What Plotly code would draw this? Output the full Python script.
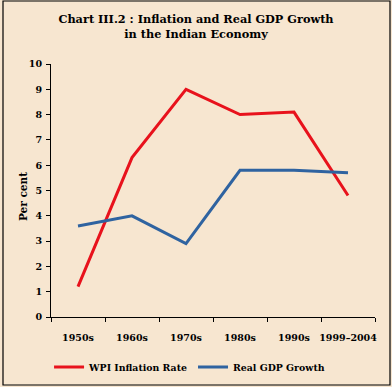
import plotly.graph_objects as go

categories = ["1950s", "1960s", "1970s", "1980s", "1990s", "1999-2004"]
wpi_inflation = [1.2, 6.3, 9.0, 8.0, 8.1, 4.8]
real_gdp_growth = [3.6, 4.0, 2.9, 5.8, 5.8, 5.7]

BG = "#F7E6D0"
FONT = "DejaVu Serif"

fig = go.Figure()
fig.add_trace(go.Scatter(x=categories, y=wpi_inflation, mode="lines",
                         name="<b>WPI Inflation Rate</b>",
                         line=dict(color="#E8121C", width=3)))
fig.add_trace(go.Scatter(x=categories, y=real_gdp_growth, mode="lines",
                         name="<b>Real GDP Growth</b>",
                         line=dict(color="#2F63A0", width=3)))

fig.update_layout(
    width=392, height=387,
    margin=dict(l=51, r=17, t=64, b=70, autoexpand=False),
    paper_bgcolor=BG, plot_bgcolor=BG,
    font=dict(family=FONT, size=9, color="black"),
    title=dict(text="<b>Chart III.2 : Inflation and Real GDP Growth<br>in the Indian Economy</b>",
               x=0.5, xanchor="center", y=0.94, yanchor="top",
               font=dict(family=FONT, size=11.3, color="black")),
    showlegend=True,
    legend=dict(orientation="h", x=-0.006, xanchor="left", y=-0.14, yanchor="top",
                bgcolor="rgba(0,0,0,0)", font=dict(family=FONT, size=9.4),
                itemwidth=30, tracegroupgap=0),
    xaxis=dict(type="category", range=[-0.5, 5.5], showline=True, linecolor="black",
               linewidth=1, ticks="outside", tickson="boundaries", ticklen=4,
               tickcolor="black", showgrid=False, zeroline=False, tickangle=0,
               ticklabelstandoff=12,
               tickfont=dict(family=FONT, size=9.5),
               tickvals=categories,
               ticktext=["<b>%s</b>" % c.replace("-", "–") for c in categories]),
    yaxis=dict(range=[0, 10], showline=True, linecolor="black", linewidth=1,
               ticks="outside", ticklen=4, tickcolor="black", showgrid=False,
               zeroline=False, tickfont=dict(family=FONT, size=9.5),
               ticklabelstandoff=2,
               tickvals=list(range(0, 11)),
               ticktext=["<b>%d</b>" % v for v in range(0, 11)]),
    annotations=[dict(text="<b>Per cent</b>", xref="paper", yref="paper",
                      x=(23 - 51) / 324, y=(317 - 197) / 253, xanchor="center",
                      yanchor="middle", textangle=-90, showarrow=False,
                      font=dict(family=FONT, size=10.5, color="black"))],
    shapes=[dict(type="rect", xref="paper", yref="paper",
                 x0=(3 - 51) / 324, x1=(390 - 51) / 324,
                 y0=(317 - 385) / 253, y1=(317 - 1) / 253,
                 line=dict(color="black", width=1.2), fillcolor="rgba(0,0,0,0)")],
)

fig.write_html("out.html", config={"displayModeBar": False},
               post_script="document.body.style.margin='0';")
